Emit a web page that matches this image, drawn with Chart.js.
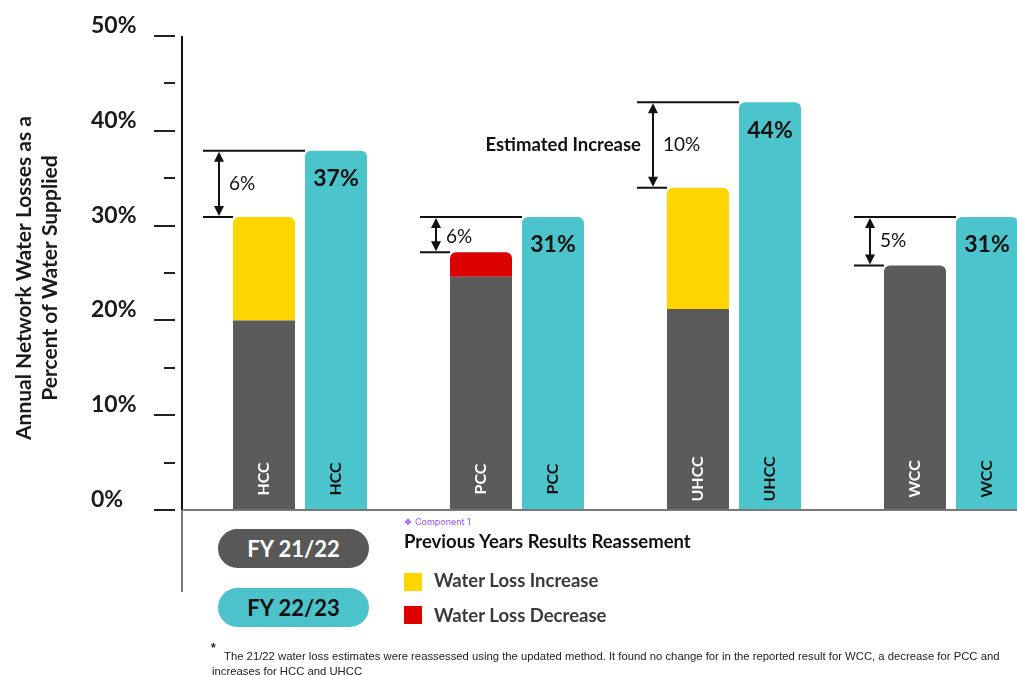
<!DOCTYPE html>
<html>
<head>
<meta charset="utf-8">
<script src="https://cdn.jsdelivr.net/npm/chart.js@4/dist/chart.umd.min.js"></script>
<style>
  body { margin: 0; width: 1017px; height: 675px; overflow: hidden; background: #fff; font-family: Lato, "Open Sans", sans-serif; }
  #wrap { position: absolute; left: 0; top: 0; width: 1075px; height: 675px; }
  .pill { position: absolute; left: 218px; width: 151px; height: 39px; border-radius: 20px; font-weight: 700; font-size: 22px; line-height: 39px; text-align: center; }
  .sq { position: absolute; left: 404px; width: 18px; height: 18px; }
  .lg { position: absolute; left: 434px; font-size: 18.5px; font-weight: 700; color: #3a3a3a; line-height: 20px; }
  .note { position: absolute; font-family: "Liberation Sans", sans-serif; font-size: 11.3px; color: #222; white-space: nowrap; }
</style>
</head>
<body>
<div id="wrap"><canvas id="grafica"></canvas></div>

<div class="pill" style="top:529px;background:#585858;color:#fff;">FY 21/22</div>
<div class="pill" style="top:588px;background:#4cc3cb;color:#111;">FY 22/23</div>
<div style="position:absolute;left:404px;top:516px;font-size:9px;color:#9747ff;font-family:'DejaVu Sans',sans-serif;">❖ <span style="font-family:Inter,sans-serif">Component 1</span></div>
<div style="position:absolute;left:404px;top:530px;font-size:18.5px;font-weight:700;color:#111;">Previous Years Results Reassement</div>
<div class="sq" style="top:573px;background:#ffd500;"></div>
<div class="lg" style="top:570px;">Water Loss Increase</div>
<div class="sq" style="top:606px;background:#dc0000;"></div>
<div class="lg" style="top:605px;">Water Loss Decrease</div>
<div class="note" style="left:211px;top:641px;font-weight:700;font-size:12px;">*</div>
<div class="note" style="left:224px;top:650px;">The 21/22 water loss estimates were reassessed using the updated method. It found no change for in the reported result for WCC, a decrease for PCC and</div>
<div class="note" style="left:212px;top:665px;">increases for HCC and UHCC</div>

<script>
// Datos
const distritos = ['HCC', 'PCC', 'UHCC', 'WCC'];
const fy2122 = [20.0, 24.6, 21.2, 25.8];
const aumento = [10.9, null, 12.8, null];
const disminucion = [null, 2.6, null, null];
const fy2223 = [37.9, 30.9, 43.0, 30.9];
const etiquetasFy2223 = ['37%', '31%', '44%', '31%'];
const etiquetasCambio = ['6%', '6%', '10%', '5%'];
const ticksY = [0, 10, 20, 30, 40, 50];

const GRIS = '#5b5b5b', TURQUESA = '#4bc4cc', AMARILLO = '#ffd500', ROJO = '#dc0000';

// radio solo en la parte de arriba de cada pila
function radioArriba(ctx) {
    const i = ctx.dataIndex;
    if (ctx.datasetIndex === 0 && (aumento[i] || disminucion[i])) return 0;
    return { topLeft: 6, topRight: 6, bottomLeft: 0, bottomRight: 0 };
}

function flecha(ctx, x, y, dir) {
    ctx.beginPath();
    ctx.moveTo(x, y);
    ctx.lineTo(x - 5, y - dir * 10);
    ctx.lineTo(x + 5, y - dir * 10);
    ctx.closePath();
    ctx.fill();
}

function textoVertical(ctx, texto, x, y, color) {
    ctx.save();
    ctx.font = 'bold 16px Lato';
    ctx.textAlign = 'center';
    ctx.textBaseline = 'middle';
    ctx.translate(x, y);
    ctx.rotate(-Math.PI / 2);
    ctx.fillStyle = color;
    ctx.fillText(texto, 0, 0);
    ctx.restore();
}

const dibujoExtra = {
    id: 'dibujoExtra',
    afterDraw(chart) {
        const ctx = chart.ctx;
        const y = chart.scales.y;
        const ejeX = 182;
        ctx.save();

        // eje vertical
        ctx.strokeStyle = '#111';
        ctx.lineWidth = 2;
        ctx.beginPath();
        ctx.moveTo(ejeX, y.getPixelForValue(50));
        ctx.lineTo(ejeX, y.getPixelForValue(0));
        ctx.stroke();
        ctx.strokeStyle = '#777';
        ctx.beginPath();
        ctx.moveTo(ejeX, y.getPixelForValue(0));
        ctx.lineTo(ejeX, 592);
        ctx.stroke();
        ctx.beginPath();
        ctx.moveTo(ejeX, y.getPixelForValue(0));
        ctx.lineTo(1017, y.getPixelForValue(0));
        ctx.stroke();

        // marcas y etiquetas del eje
        ctx.strokeStyle = '#222';
        ctx.fillStyle = '#1a1a1a';
        ctx.font = 'bold 23px Lato';
        ctx.textAlign = 'left';
        ctx.textBaseline = 'middle';
        for (let v = 0; v <= 50; v += 5) {
            const py = Math.round(y.getPixelForValue(v));
            const mayor = ticksY.includes(v);
            ctx.beginPath();
            ctx.moveTo(mayor ? 154 : 164, py);
            ctx.lineTo(175, py);
            ctx.stroke();
            if (mayor) ctx.fillText(v + '%', 91, py - 10);
        }

        // titulo del eje
        ctx.save();
        ctx.font = 'bold 21px Lato';
        ctx.textAlign = 'center';
        ctx.translate(24, 278);
        ctx.rotate(-Math.PI / 2);
        ctx.fillText('Annual Network Water Losses as a', 0, 0);
        ctx.fillText('Percent of Water Supplied', 0, 26);
        ctx.restore();

        const barrasPrev = chart.getDatasetMeta(0).data;
        const barrasAct = chart.getDatasetMeta(3).data;

        distritos.forEach((d, i) => {
            const gris = barrasPrev[i], turq = barrasAct[i];
            const izq = gris.x - gris.width / 2;
            const izqT = turq.x - turq.width / 2;
            const topeAnt = y.getPixelForValue(fy2122[i] + (aumento[i] || 0) + (disminucion[i] || 0));
            const topeAct = y.getPixelForValue(fy2223[i]);

            // nombres dentro de las barras
            textoVertical(ctx, d, gris.x, 479, '#fff');
            textoVertical(ctx, d, turq.x, 479, '#111');

            // valor FY 22/23
            ctx.fillStyle = '#111';
            ctx.font = 'bold 23px Lato';
            ctx.textAlign = 'center';
            ctx.textBaseline = 'middle';
            ctx.fillText(etiquetasFy2223[i], turq.x, topeAct + 28);

            // corchete con flechas
            const xFlecha = izq - 14;
            ctx.strokeStyle = '#111';
            ctx.lineWidth = 2;
            ctx.beginPath();
            ctx.moveTo(izq - 30, topeAct);
            ctx.lineTo(izqT, topeAct);
            ctx.moveTo(izq - 30, topeAnt);
            ctx.lineTo(izq, topeAnt);
            ctx.moveTo(xFlecha, topeAct + 6);
            ctx.lineTo(xFlecha, topeAnt - 6);
            ctx.stroke();
            flecha(ctx, xFlecha, topeAct + 1, -1);
            flecha(ctx, xFlecha, topeAnt - 1, 1);

            ctx.font = '19px Lato';
            ctx.textAlign = 'left';
            let yTexto = (topeAct + topeAnt) / 2;
            if (d === 'PCC') yTexto = topeAct + 20;
            ctx.fillText(etiquetasCambio[i], xFlecha + 10, yTexto);

            if (d === 'UHCC') {
                ctx.font = 'bold 18.5px Lato';
                ctx.textAlign = 'right';
                ctx.fillText('Estimated Increase', xFlecha - 12, yTexto);
            }
        });
        ctx.restore();
    }
};

const ctx = document.getElementById('grafica').getContext('2d');
const grafica = new Chart(ctx, {
    type: 'bar',
    data: {
        labels: distritos,
        datasets: [
            { label: 'FY 21/22', data: fy2122, backgroundColor: GRIS, stack: 'prev' },
            { label: 'Water Loss Increase', data: aumento, backgroundColor: AMARILLO, stack: 'prev' },
            { label: 'Water Loss Decrease', data: disminucion, backgroundColor: ROJO, stack: 'prev' },
            { label: 'FY 22/23', data: fy2223, backgroundColor: TURQUESA, stack: 'curr' }
        ]
    },
    options: {
        responsive: true,
        maintainAspectRatio: false,
        animation: false,
        categoryPercentage: 0.6636,
        barPercentage: 0.861,
        borderRadius: radioArriba,
        borderSkipped: false,
        layout: { padding: { left: 191.5, right: 15.5, top: 36, bottom: 165 } },
        scales: {
            x: { stacked: true, display: false },
            y: { stacked: true, display: false, min: 0, max: 50 }
        },
        plugins: {
            legend: { display: false },
            tooltip: { enabled: false }
        }
    },
    plugins: [dibujoExtra]
});
</script>
</body>
</html>
